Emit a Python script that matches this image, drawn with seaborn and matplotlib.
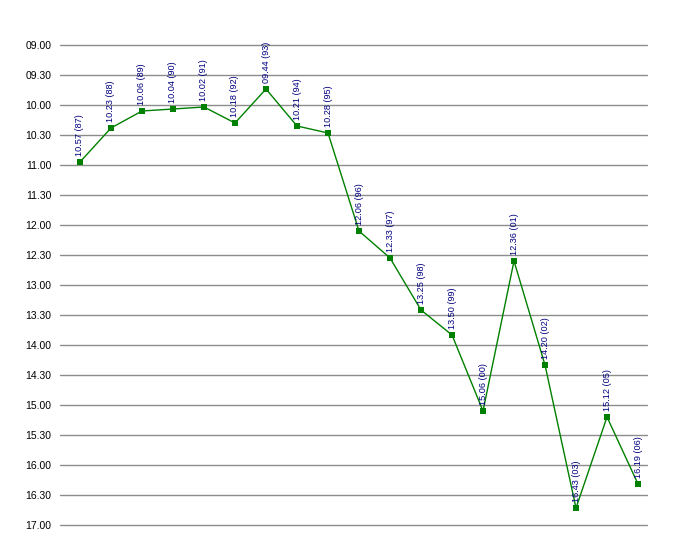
import matplotlib
matplotlib.use("Agg")
import matplotlib.pyplot as plt
import seaborn as sns
import pandas as pd

# times (hh.mm), with the year in brackets
times = ["10.57", "10.23", "10.06", "10.04", "10.02", "10.18", "09.44", "10.21", "10.28",
         "12.06", "12.33", "13.25", "13.50", "15.06", "12.36", "14.20", "16.43", "15.12", "16.19"]
years = ["87", "88", "89", "90", "91", "92", "93", "94", "95",
         "96", "97", "98", "99", "00", "01", "02", "03", "05", "06"]
ytick_labels = ["09.00", "09.30", "10.00", "10.30", "11.00", "11.30", "12.00", "12.30",
                "13.00", "13.30", "14.00", "14.30", "15.00", "15.30", "16.00", "16.30", "17.00"]

# hh.mm -> decimal hours
hours = [int(t.split(".")[0]) + int(t.split(".")[1]) / 60 for t in times]
df = pd.DataFrame({"idx": range(len(times)), "hours": hours,
                   "label": [f"{t} ({y})" for t, y in zip(times, years)]})

sns.set_style("white")
plt.rcParams['font.family'] = ['Liberation Sans', 'DejaVu Sans']

fig = plt.figure(figsize=(6.86, 5.55), dpi=100)
ax = fig.add_axes([60/686, 30/555, 587/686, 480/555])

# horizontal grid
for v in [9 + i * 0.5 for i in range(len(ytick_labels))]:
    ax.axhline(v, color="#8c8c8c", lw=1, zorder=0, clip_on=False)

sns.lineplot(data=df, x="idx", y="hours", ax=ax, sort=False, color="#008000",
             lw=1, marker="s", markersize=4.5, markeredgewidth=0, zorder=3)

for _, r in df.iterrows():
    ax.annotate(r["label"], (r["idx"], r["hours"]), xytext=(0, 4.5),
                textcoords="offset points", rotation=90, ha="center", va="bottom",
                fontsize=6.6, color="#000080",
                family=['Liberation Sans Narrow', 'Liberation Sans', 'DejaVu Sans'])

ax.set_ylim(17.0, 9.0)
ax.set_xlim(-0.645, 18.29)
ax.set_yticks([9 + i * 0.5 for i in range(len(ytick_labels))])
ax.set_yticklabels(ytick_labels)
ax.set_xticks([])
ax.tick_params(axis="y", length=0, pad=6, labelsize=7.5, labelcolor="black")
ax.set_xlabel("")
ax.set_ylabel("")
for s in ax.spines.values():
    s.set_visible(False)

fig.savefig("out.png", dpi=100)
plt.close()
